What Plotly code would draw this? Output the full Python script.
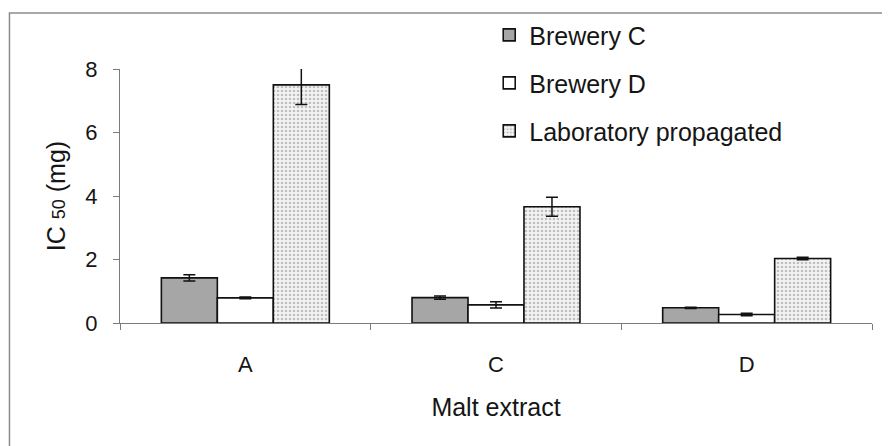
import plotly.graph_objects as go

# ─────────────────────────────────────────────
# Data
# ─────────────────────────────────────────────

extracts = ["A", "C", "D"]

brewery_c = [1.42, 0.80, 0.48]
brewery_c_err = [0.10, 0.05, 0.02]

brewery_d = [0.79, 0.57, 0.27]
brewery_d_err = [0.03, 0.10, 0.04]

lab_prop = [7.5, 3.66, 2.03]
lab_prop_err = [0.62, 0.30, 0.04]

FONT = "Liberation Sans, Arial, sans-serif"
TEXT = "#151515"
AXIS = "#7a7a7a"

# page body adds an 8px offset, so the figure is 8px smaller and margins shifted
fig = go.Figure()

err_style = dict(type="data", visible=True, color="#111111", thickness=1.5, width=6)

fig.add_trace(go.Bar(
    x=extracts, y=brewery_c, name="Brewery C", legendgroup="c",
    marker=dict(color="#a6a6a6", line=dict(color="#111111", width=1.6)),
    error_y=dict(array=brewery_c_err, **err_style),
))
fig.add_trace(go.Bar(
    x=extracts, y=brewery_d, name="Brewery D", legendgroup="d",
    marker=dict(color="#ffffff", line=dict(color="#111111", width=1.6)),
    error_y=dict(array=brewery_d_err, **err_style),
))
fig.add_trace(go.Bar(
    x=extracts, y=lab_prop, name="Laboratory propagated", legendgroup="l",
    marker=dict(
        color="#ffffff",
        line=dict(color="#111111", width=1.6),
        pattern=dict(shape=".", size=4, solidity=0.35, fgcolor="#8a8a8a", bgcolor="#f4f4f4"),
    ),
    error_y=dict(array=lab_prop_err, **err_style),
))

# outer frame of the scanned chart (only top and left edges are in view)
fig.add_shape(type="rect", xref="paper", yref="paper",
              x0=-0.147, x1=1.2, y0=-0.7, y1=1.22,
              line=dict(color="#8c8c8c", width=1.5), layer="below")

fig.update_layout(
    width=882, height=438,
    paper_bgcolor="#ffffff", plot_bgcolor="#ffffff",
    font=dict(family=FONT, color=TEXT, size=22),
    margin=dict(l=112, r=18, t=61, b=123, autoexpand=False),
    barmode="group", bargap=0.33, bargroupgap=0,
    legend=dict(
        x=0.491, y=1.224, xanchor="left", yanchor="top",
        font=dict(size=25), bgcolor="rgba(0,0,0,0)",
        tracegroupgap=12.5, traceorder="grouped",
    ),
    xaxis=dict(
        type="category", showline=True, linecolor=AXIS, linewidth=1.2,
        ticks="outside", tickson="boundaries", ticklen=6, tickcolor=AXIS,
        tickfont=dict(size=22), ticklabelstandoff=21,
        title=dict(text="Malt extract", font=dict(size=25), standoff=22),
        showgrid=False,
    ),
    yaxis=dict(
        range=[0, 8], dtick=2, showline=True, linecolor=AXIS, linewidth=1.2,
        ticks="outside", ticklen=6, tickcolor=AXIS, tickfont=dict(size=22),
        ticklabelstandoff=11, showgrid=False, zeroline=False,
        title=dict(text="IC <span style='font-size:18px'>50</span> (mg)",
                   font=dict(size=25), standoff=12),
    ),
)

fig.write_html("out.html")
